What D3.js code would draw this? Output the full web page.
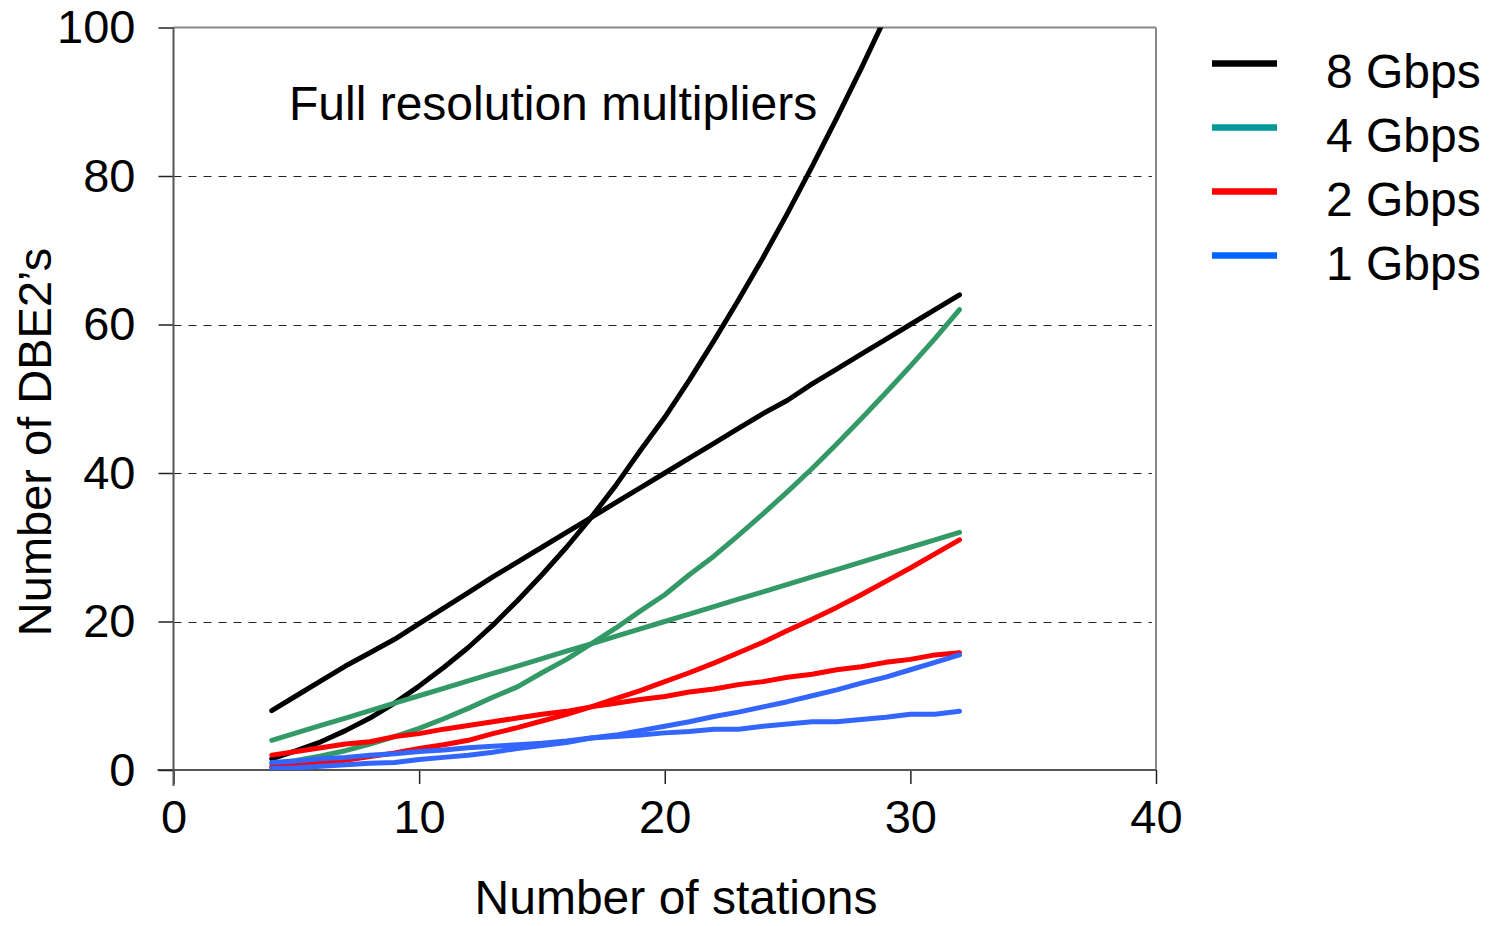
<!DOCTYPE html>
<html>
<head>
<meta charset="utf-8">
<script src="https://cdn.jsdelivr.net/npm/d3@7"></script>
<style>
  html, body { margin: 0; padding: 0; background: #fff; }
  svg { display: block; font-family: "Liberation Sans", Arial, sans-serif; }
</style>
</head>
<body>
<svg id="chart" width="1495" height="926"></svg>
<script>
// ---- data ----
const stations = [4,5,6,7,8,9,10,11,12,13,14,15,16,17,18,19,20,21,22,23,24,25,26,27,28,29,30,31,32];

const gbps8Linear = [8,10,12,14,15.8,17.6,19.7,21.8,23.9,26,28,30,32,34,36,38,40,42,44,46,48,49.8,52,54,56,58,60,62,64];
const gbps8Full   = [1.5,2.6,3.8,5.3,7,9,11.3,13.8,16.5,19.5,22.8,26.3,30,34,38.3,43,47.5,52.5,57.8,63.3,69,75,81.3,87.8,94.5,101.5,108.8,116.3,124];

const gbps4Linear = [4,5,6,7,8,9,10,11,12,13,14,15,16,17,18,19,20,21,22,23,24,25,26,27,28,29,30,31,32];
const gbps4Full   = [0.8,1.3,1.9,2.6,3.5,4.5,5.6,6.9,8.3,9.8,11.2,13.1,14.9,17,19.1,21.4,23.6,26.3,28.8,31.6,34.5,37.5,40.6,43.9,47.3,50.8,54.4,58.1,62];

const gbps2Linear = [2,2.5,3,3.5,3.8,4.5,4.9,5.5,6,6.5,7,7.5,7.9,8.5,9,9.5,9.9,10.5,10.9,11.5,11.9,12.5,12.9,13.5,13.9,14.5,14.9,15.5,15.8];
const gbps2Full   = [0.4,0.7,1,1.3,1.8,2.3,2.9,3.4,4,4.9,5.7,6.6,7.5,8.5,9.6,10.7,11.9,13.1,14.4,15.8,17.2,18.8,20.3,21.9,23.6,25.4,27.2,29.1,31];

const gbps1Linear = [1,1.2,1.5,1.7,2,2.2,2.5,2.7,3,3.2,3.4,3.6,3.9,4.3,4.5,4.7,5,5.2,5.5,5.5,5.9,6.2,6.5,6.5,6.8,7.1,7.5,7.5,7.9];
const gbps1Full   = [0.2,0.3,0.5,0.7,0.9,1,1.4,1.7,2,2.4,2.9,3.3,3.7,4.3,4.7,5.3,5.9,6.5,7.2,7.8,8.5,9.2,10,10.8,11.7,12.5,13.5,14.5,15.5];

const xTicks = [0,10,20,30,40];
const yTicks = [0,20,40,60,80,100];
const gridTicks = [20,40,60,80];

const legendLabels = ["8 Gbps","4 Gbps","2 Gbps","1 Gbps"];
const legendColors = ["#000000","#009999","#ff0000","#0066ff"];

const seriesList = [
  {name:"8 Gbps linear", values:gbps8Linear, color:"#000000"},
  {name:"8 Gbps full",   values:gbps8Full,   color:"#000000"},
  {name:"4 Gbps linear", values:gbps4Linear, color:"#339966"},
  {name:"4 Gbps full",   values:gbps4Full,   color:"#339966"},
  {name:"2 Gbps linear", values:gbps2Linear, color:"#ff0000"},
  {name:"2 Gbps full",   values:gbps2Full,   color:"#ff0000"},
  {name:"1 Gbps linear", values:gbps1Linear, color:"#3366ff"},
  {name:"1 Gbps full",   values:gbps1Full,   color:"#3366ff"}
];

// ---- layout ----
const svg = d3.select("#chart");
const L = 173.5, R = 1156, T = 27.5, B = 770;

const x = d3.scaleLinear().domain([0,40]).range([L,R]);
const y = d3.scaleLinear().domain([0,100]).range([B,T]);

// clip
svg.append("defs").append("clipPath").attr("id","plotclip")
  .append("rect").attr("x",L).attr("y",T).attr("width",R-L).attr("height",B-T);

// gridlines
svg.append("g").selectAll("line").data(gridTicks).join("line")
  .attr("x1",L).attr("x2",R-4)
  .attr("y1",d=>Math.round(y(d))+0.5).attr("y2",d=>Math.round(y(d))+0.5)
  .attr("stroke","#222").attr("stroke-width",1)
  .attr("stroke-dasharray","8,7");

// frame top/right
svg.append("line").attr("x1",L).attr("x2",R).attr("y1",T).attr("y2",T)
  .attr("stroke","#888").attr("stroke-width",2);
svg.append("line").attr("x1",R).attr("x2",R).attr("y1",T).attr("y2",B)
  .attr("stroke","#888").attr("stroke-width",2);

// axes
const xAxis = d3.axisBottom(x).tickValues(xTicks).tickSize(14).tickPadding(16).tickFormat(d3.format("d"));
const gx = svg.append("g").attr("transform",`translate(0,${B})`).call(xAxis);
gx.select(".domain").remove();
gx.append("line").attr("x1",L-16).attr("x2",R).attr("y1",0).attr("y2",0)
  .attr("stroke","#555").attr("stroke-width",2);
gx.selectAll(".tick line").attr("stroke","#222").attr("stroke-width",1.5);
gx.selectAll(".tick text").attr("font-size",47).attr("fill","#000")
  .attr("font-family","'Liberation Sans', Arial, sans-serif");

const yAxis = d3.axisLeft(y).tickValues(yTicks).tickSize(15).tickPadding(23).tickFormat(d3.format("d"));
const gy = svg.append("g").attr("transform",`translate(${L},0)`).call(yAxis);
gy.select(".domain").remove();
gy.append("line").attr("x1",0).attr("x2",0).attr("y1",T).attr("y2",B+16)
  .attr("stroke","#555").attr("stroke-width",2);
gy.selectAll(".tick line").attr("stroke","#222").attr("stroke-width",1.5);
gy.selectAll(".tick text").attr("font-size",47).attr("fill","#000")
  .attr("font-family","'Liberation Sans', Arial, sans-serif");

// lines
const line = d3.line().x((d,i)=>x(stations[i])).y(d=>y(d));
svg.append("g").attr("clip-path","url(#plotclip)")
  .selectAll("path").data(seriesList).join("path")
  .attr("d",d=>line(d.values))
  .attr("fill","none")
  .attr("stroke",d=>d.color)
  .attr("stroke-width",5)
  .attr("stroke-linejoin","round")
  .attr("stroke-linecap","round");

// annotation
svg.append("text").attr("x",289).attr("y",120)
  .attr("font-size",48).attr("fill","#000")
  .text("Full resolution multipliers");

// axis titles
svg.append("text").attr("x",676).attr("y",914)
  .attr("text-anchor","middle").attr("font-size",48).attr("fill","#000")
  .text("Number of stations");
svg.append("text").attr("transform","translate(51,442) rotate(-90)")
  .attr("text-anchor","middle").attr("font-size",47).attr("fill","#000")
  .text("Number of DBE2\u2019s");

// legend
const lg = svg.append("g").selectAll("g").data(legendLabels).join("g")
  .attr("transform",(d,i)=>`translate(0,${63.5 + i*64})`);
lg.append("line").attr("x1",1212).attr("x2",1277).attr("y1",0).attr("y2",0)
  .attr("stroke",(d,i)=>legendColors[i]).attr("stroke-width",6.5);
lg.append("text").attr("x",1326).attr("y",24)
  .attr("font-size",48).attr("fill","#000").text(d=>d);
</script>
</body>
</html>
